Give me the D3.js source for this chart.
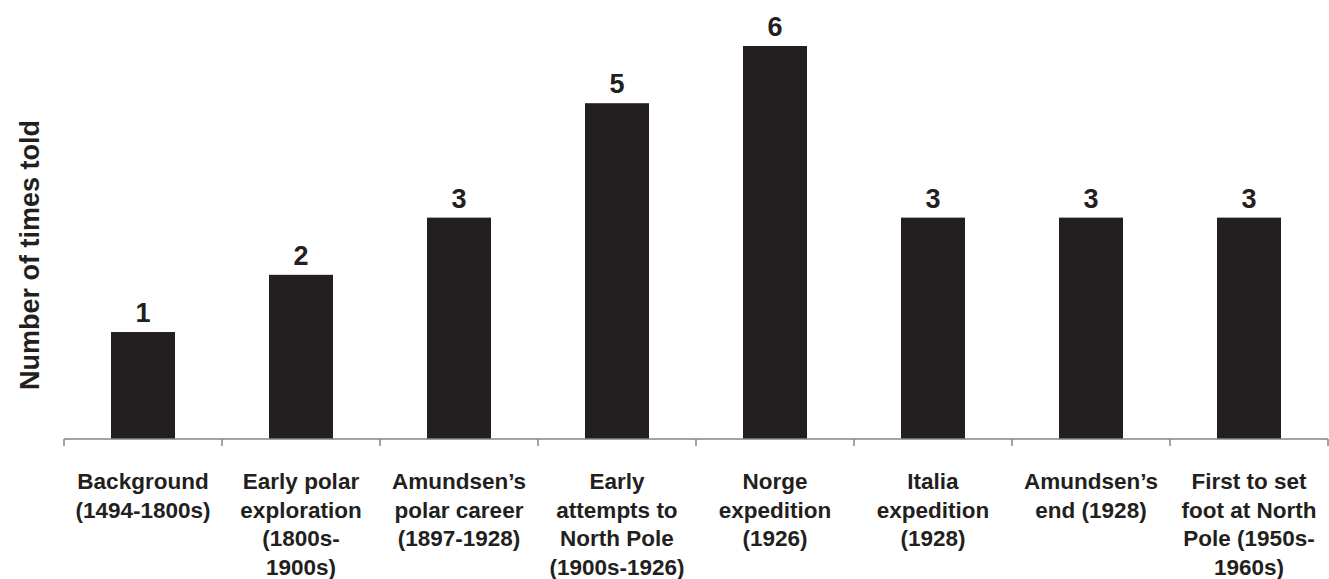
<!DOCTYPE html>
<html lang="en">
<head>
  <meta charset="UTF-8">
  <title>Number of times told</title>
  <style>
    body { margin: 0; background: #fff; }
    text { font-family: "Liberation Sans", Arial, sans-serif; font-weight: bold; fill: #231f20; }
  </style>
</head>
<body>
  <script src="https://d3js.org/d3.v7.min.js"></script>
  <script>
    // chart data
    let categories = [
      "Background (1494-1800s)",
      "Early polar exploration (1800s-1900s)",
      "Amundsen’s polar career (1897-1928)",
      "Early attempts to North Pole (1900s-1926)",
      "Norge expedition (1926)",
      "Italia expedition (1928)",
      "Amundsen’s end (1928)",
      "First to set foot at North Pole (1950s-1960s)"
    ];
    let labelLines = [
      ["Background", "(1494-1800s)"],
      ["Early polar", "exploration", "(1800s-", "1900s)"],
      ["Amundsen’s", "polar career", "(1897-1928)"],
      ["Early", "attempts to", "North Pole", "(1900s-1926)"],
      ["Norge", "expedition", "(1926)"],
      ["Italia", "expedition", "(1928)"],
      ["Amundsen’s", "end (1928)"],
      ["First to set", "foot at North", "Pole (1950s-", "1960s)"]
    ];
    let timesTold = [1, 2, 3, 5, 6, 3, 3, 3];

    let width = 1329;
    let height = 579;
    let axisY = 439;
    let barWidth = 64;

    let svg = d3.select("body")
      .append("svg")
      .attr("width", width)
      .attr("height", height);

    let x = d3.scaleBand()
      .domain(categories)
      .range([64, 1328])
      .padding(0);

    // the value axis does not start at zero in the original
    let y = d3.scaleLinear()
      .domain([-0.87, 6])
      .range([axisY, 46]);

    // bars
    svg.selectAll("rect.bar")
      .data(timesTold)
      .join("rect")
      .attr("class", "bar")
      .attr("x", (d, i) => x(categories[i]) + (x.bandwidth() - barWidth) / 2)
      .attr("y", d => y(d))
      .attr("width", barWidth)
      .attr("height", d => axisY - y(d))
      .attr("fill", "#231f20");

    // value labels
    svg.selectAll("text.value")
      .data(timesTold)
      .join("text")
      .attr("class", "value")
      .attr("x", (d, i) => x(categories[i]) + x.bandwidth() / 2)
      .attr("y", d => y(d) - 10)
      .attr("text-anchor", "middle")
      .style("font-size", "27px")
      .text(d => d);

    // category axis with ticks between the categories
    let axis = svg.append("g").attr("class", "axis");
    axis.append("line")
      .attr("x1", x.range()[0])
      .attr("x2", x.range()[1])
      .attr("y1", axisY)
      .attr("y2", axisY)
      .attr("stroke", "#858585")
      .attr("stroke-width", 1.5);

    let tickPos = categories.map(c => x(c)).concat([x.range()[1]]);
    axis.selectAll("line.tick")
      .data(tickPos)
      .join("line")
      .attr("class", "tick")
      .attr("x1", d => d)
      .attr("x2", d => d)
      .attr("y1", axisY)
      .attr("y2", axisY + 7)
      .attr("stroke", "#858585")
      .attr("stroke-width", 1.5);

    // category labels, one line each
    let labels = svg.selectAll("text.cat")
      .data(labelLines)
      .join("text")
      .attr("class", "cat")
      .attr("text-anchor", "middle")
      .style("font-size", "22.5px");

    labels.selectAll("tspan")
      .data((d, i) => d.map(s => ({ s: s, i: i })))
      .join("tspan")
      .attr("x", d => x(categories[d.i]) + x.bandwidth() / 2)
      .attr("y", (d, j) => 489 + j * 28.7)
      .text(d => d.s);

    // y axis title
    svg.append("text")
      .attr("transform", "translate(39,255) rotate(-90)")
      .attr("text-anchor", "middle")
      .style("font-size", "27px")
      .text("Number of times told");
  </script>
</body>
</html>
